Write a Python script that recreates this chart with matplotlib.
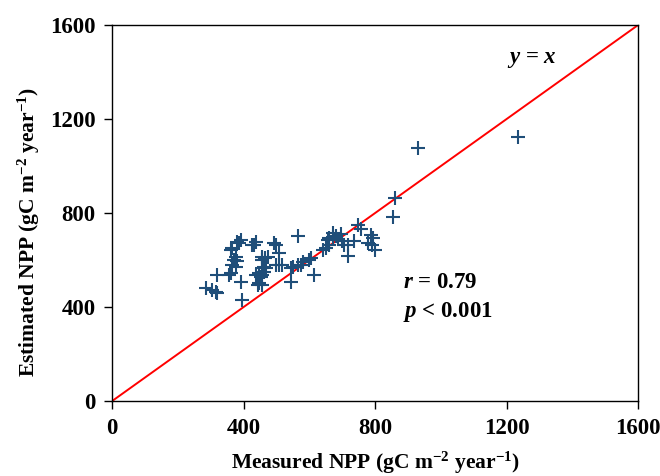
import matplotlib
matplotlib.use("Agg")
import matplotlib.pyplot as plt

plt.rcParams['font.family'] = ['Liberation Serif', 'DejaVu Serif']
plt.rcParams['font.weight'] = 'bold'
plt.rcParams['mathtext.fontset'] = 'custom'
plt.rcParams['mathtext.rm'] = 'Liberation Serif:bold'
plt.rcParams['mathtext.it'] = 'Liberation Serif:italic:bold'
plt.rcParams['mathtext.bf'] = 'Liberation Serif:bold'

measured = [931, 1234, 861, 854,
            749, 757, 788, 793, 778, 790, 798, 737, 716, 706, 716, 671, 671, 680, 688, 695,
            700, 660, 655, 660, 650, 640,
            564, 498, 492, 508, 457, 465, 475, 498, 508, 518, 462, 467, 457, 452, 457,
            544, 549, 544, 564, 574, 579, 600, 605, 615,
            391, 386, 381, 437, 431, 426, 365, 360, 457, 376, 370, 381, 365, 376, 320,
            355, 360, 437, 447, 457, 462, 391, 442, 447, 284, 304, 320, 315, 396]
estimated = [1077, 1123, 864, 784,
             749, 732, 706, 695, 671, 664, 643, 681, 664, 664, 617, 714, 699, 700, 690, 710,
             680, 692, 685, 664, 650, 643,
             703, 664, 671, 628, 600, 607, 614, 579, 579, 579, 572, 565, 536, 529, 494,
             565, 572, 508, 579, 579, 590, 600, 607, 536,
             685, 671, 678, 678, 664, 664, 650, 643, 614, 614, 600, 596, 579, 571, 536,
             536, 543, 536, 543, 565, 550, 508, 494, 501, 479, 472, 458, 465, 430]

ticks = [0, 400, 800, 1200, 1600]
one_to_one = [0, 1600]

fig = plt.figure(figsize=(6.6, 4.76), dpi=100)
ax = fig.add_axes([0.170, 0.1576, 0.797, 0.79])

ax.plot(one_to_one, one_to_one, color='#ff0000', lw=1.4, zorder=2)
ax.plot(measured, estimated, linestyle='none', marker='+', markersize=10,
        markeredgewidth=1.5, color='#1f4e79', zorder=3)

ax.set_xlim(0, 1600)
ax.set_ylim(0, 1600)
ax.set_xticks(ticks)
ax.set_yticks(ticks)
ax.tick_params(direction='out', length=6, width=1, labelsize=16.5, pad=6)
for lab in ax.get_xticklabels() + ax.get_yticklabels():
    lab.set_fontweight('bold')
for s in ax.spines.values():
    s.set_linewidth(1.0)

ax.set_xlabel(r'Measured NPP (gC m$^{-2}$ year$^{-1}$)', fontsize=15.5, fontweight='bold', labelpad=8)
ax.set_ylabel(r'Estimated NPP (gC m$^{-2}$ year$^{-1}$)', fontsize=15.5, fontweight='bold', labelpad=6)
ax.yaxis.label.set_y(0.45)

ax.text(1200, 1455, r'$y$ = $x$', fontsize=16.5, fontweight='bold', va='center')
ax.text(885, 505, r'$r$ = 0.79', fontsize=16.5, fontweight='bold', va='center')
ax.text(885, 378, r'$p$ < 0.001', fontsize=16.5, fontweight='bold', va='center')

fig.savefig('out.png', dpi=100)
